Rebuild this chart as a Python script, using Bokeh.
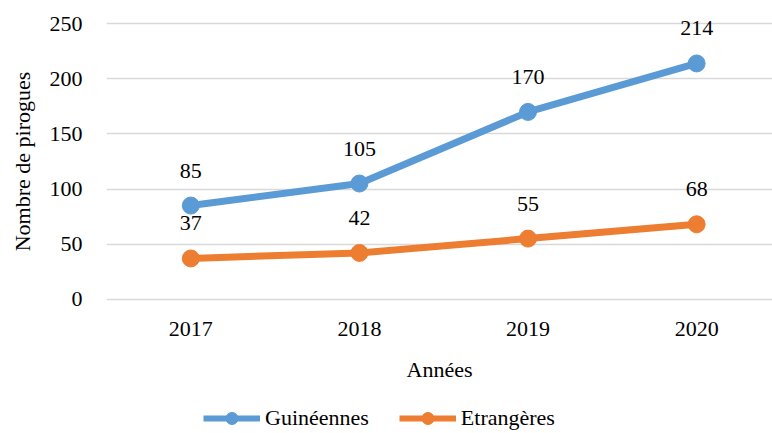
from bokeh.plotting import figure
from bokeh.layouts import column
from bokeh.models import Range1d, FixedTicker, Legend, LegendItem, ColumnDataSource
from bokeh.core.properties import value
from bokeh.embed import file_html
from bokeh.resources import INLINE

years = ["2017", "2018", "2019", "2020"]
guineennes = [85, 105, 170, 214]
etrangeres = [37, 42, 55, 68]
y_ticks = [0, 50, 100, 150, 200, 250]
series_names = ["Guinéennes", "Etrangères"]

FONT = "'Liberation Serif', 'Times New Roman', serif"
BLUE = "#5B9BD5"
ORANGE = "#ED7D31"

idx = list(range(len(years)))

p = figure(width=772, height=395, output_backend="svg", toolbar_location=None,
           x_range=Range1d(-0.5, 3.45), y_range=Range1d(-3, 253),
           min_border_left=106, min_border_right=0, min_border_top=20, min_border_bottom=93)
p.outline_line_color = None
p.background_fill_color = "white"
p.border_fill_color = "white"

src_g = ColumnDataSource(dict(x=idx, y=guineennes, t=[str(v) for v in guineennes]))
src_e = ColumnDataSource(dict(x=idx, y=etrangeres, t=[str(v) for v in etrangeres]))
sources = [src_g, src_e]
colors = [BLUE, ORANGE]

for src, col in zip(sources, colors):
    p.line("x", "y", source=src, line_color=col, line_width=7)
    p.scatter("x", "y", source=src, size=17, fill_color=col, line_color=col)

for src in sources:
    p.text("x", "y", text="t", source=src, y_offset=-35, text_align="center",
           text_baseline="middle", text_font=value(FONT), text_font_size="22px",
           text_color="black")

# axes
p.xaxis.ticker = FixedTicker(ticks=idx)
p.xaxis.major_label_overrides = {i: y for i, y in zip(idx, years)}
p.yaxis.ticker = FixedTicker(ticks=y_ticks)
for ax in (p.xaxis, p.yaxis):
    ax.axis_line_color = None
    ax.major_tick_line_color = None
    ax.minor_tick_line_color = None
    ax.major_tick_out = 0
    ax.major_label_text_font = FONT
    ax.major_label_text_font_size = "22px"
    ax.major_label_text_color = "black"
    ax.axis_label_text_font = FONT
    ax.axis_label_text_font_size = "22px"
    ax.axis_label_text_font_style = "normal"
    ax.axis_label_text_color = "black"
p.xaxis.axis_label = "Années"
p.yaxis.axis_label = "Nombre de pirogues"
p.xaxis.major_label_standoff = 19
p.xaxis.axis_label_standoff = 18
p.yaxis.major_label_standoff = 24
p.yaxis.axis_label_standoff = 12

p.xgrid.grid_line_color = None
p.ygrid.grid_line_color = "#D9D9D9"
p.ygrid.grid_line_width = 1.5

# legend strip (series drawn off-range so only the legend shows)
q = figure(width=772, height=38, output_backend="svg", toolbar_location=None,
           x_axis_type=None, y_axis_type=None,
           x_range=Range1d(-0.5, 3.45), y_range=Range1d(-1000, -999),
           min_border_left=0, min_border_right=0, min_border_top=0, min_border_bottom=0)
q.grid.visible = False
q.outline_line_color = None
q.border_fill_color = "white"
q.background_fill_color = "white"
items = []
for name, src, col in zip(series_names, sources, colors):
    r1 = q.line("x", "y", source=src, line_color=col, line_width=6)
    r2 = q.scatter("x", "y", source=src, size=17, fill_color=col, line_color=col)
    items.append(LegendItem(label=name, renderers=[r1, r2]))
legend = Legend(items=items, orientation="horizontal", location=(97, 0),
                label_text_font=FONT, label_text_font_size="22px", label_text_color="black",
                glyph_width=57, glyph_height=30, label_height=22, label_standoff=5,
                spacing=30, padding=0, margin=0,
                border_line_color=None, background_fill_alpha=0)
q.add_layout(legend, "center")

layout = column(p, q, spacing=0)
open("out.html", "w").write(file_html(layout, INLINE))
